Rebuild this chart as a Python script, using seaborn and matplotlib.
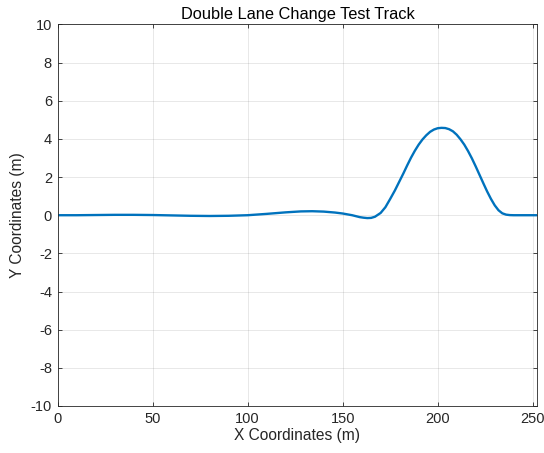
import matplotlib
matplotlib.use("Agg")
import matplotlib.pyplot as plt
import seaborn as sns
import pandas as pd

x_m = [0, 10, 20, 30, 40, 50, 60, 70, 80, 90, 100, 110, 120, 128, 134, 140, 146, 150,
       155, 159, 161, 163, 165, 167, 170, 172.5, 175, 177.5, 180, 182, 184, 186, 188,
       190, 192, 194, 196, 198, 200, 202, 204, 206, 208, 210, 212, 214, 216, 218,
       220, 222, 224, 226, 228, 230, 232, 234, 236, 238, 240, 246, 252.5]
y_m = [0, 0.0, 0.01, 0.02, 0.02, 0.01, -0.01, -0.03, -0.04, -0.03, 0.0, 0.07, 0.15, 0.2,
       0.21, 0.19, 0.14, 0.09, 0.0, -0.1, -0.13, -0.15, -0.14, -0.08, 0.12, 0.42, 0.85,
       1.3, 1.8, 2.2, 2.62, 3.02, 3.38, 3.7, 3.97, 4.19, 4.37, 4.49, 4.56, 4.58, 4.57,
       4.51, 4.4, 4.22, 3.98, 3.7, 3.36, 2.98, 2.56, 2.12, 1.68, 1.25, 0.86, 0.52,
       0.26, 0.1, 0.03, 0.006, 0.0, 0.0, 0.0]

title = "Double Lane Change Test Track"
xlabel = "X Coordinates (m)"
ylabel = "Y Coordinates (m)"
xticks = [0, 50, 100, 150, 200, 250]
yticks = list(range(-10, 11, 2))

sns.set_theme(style="white")
plt.rcParams['font.family'] = ['Liberation Sans', 'DejaVu Sans']
plt.rcParams['axes.unicode_minus'] = False

df = pd.DataFrame({"x": x_m, "y": y_m})

fig = plt.figure(figsize=(5.44, 4.53), dpi=100)
ax = fig.add_axes([0.1057, 0.1038, 0.8823, 0.8422])
sns.lineplot(data=df, x="x", y="y", sort=False, estimator=None, ax=ax,
             color="#0072BD", linewidth=1.7)

ax.set_xlim(0, 252.5)
ax.set_ylim(-10, 10)
ax.set_xticks(xticks)
ax.set_yticks(yticks)
ax.grid(True, color="#262626", alpha=0.12, linewidth=0.6)
for s in ax.spines.values():
    s.set_color("#262626")
    s.set_linewidth(0.6)
    s.set_visible(True)
ax.tick_params(direction="in", length=3, width=0.6, color="#262626",
               labelsize=10.5, labelcolor="#262626", top=True, right=True,
               bottom=True, left=True, pad=4)
ax.set_title(title, fontsize=11.8, color="#000000", pad=4)
ax.set_xlabel(xlabel, fontsize=11.2, color="#262626", labelpad=2)
ax.set_ylabel(ylabel, fontsize=11.2, color="#262626", labelpad=4)

fig.savefig("out.png", dpi=100)
